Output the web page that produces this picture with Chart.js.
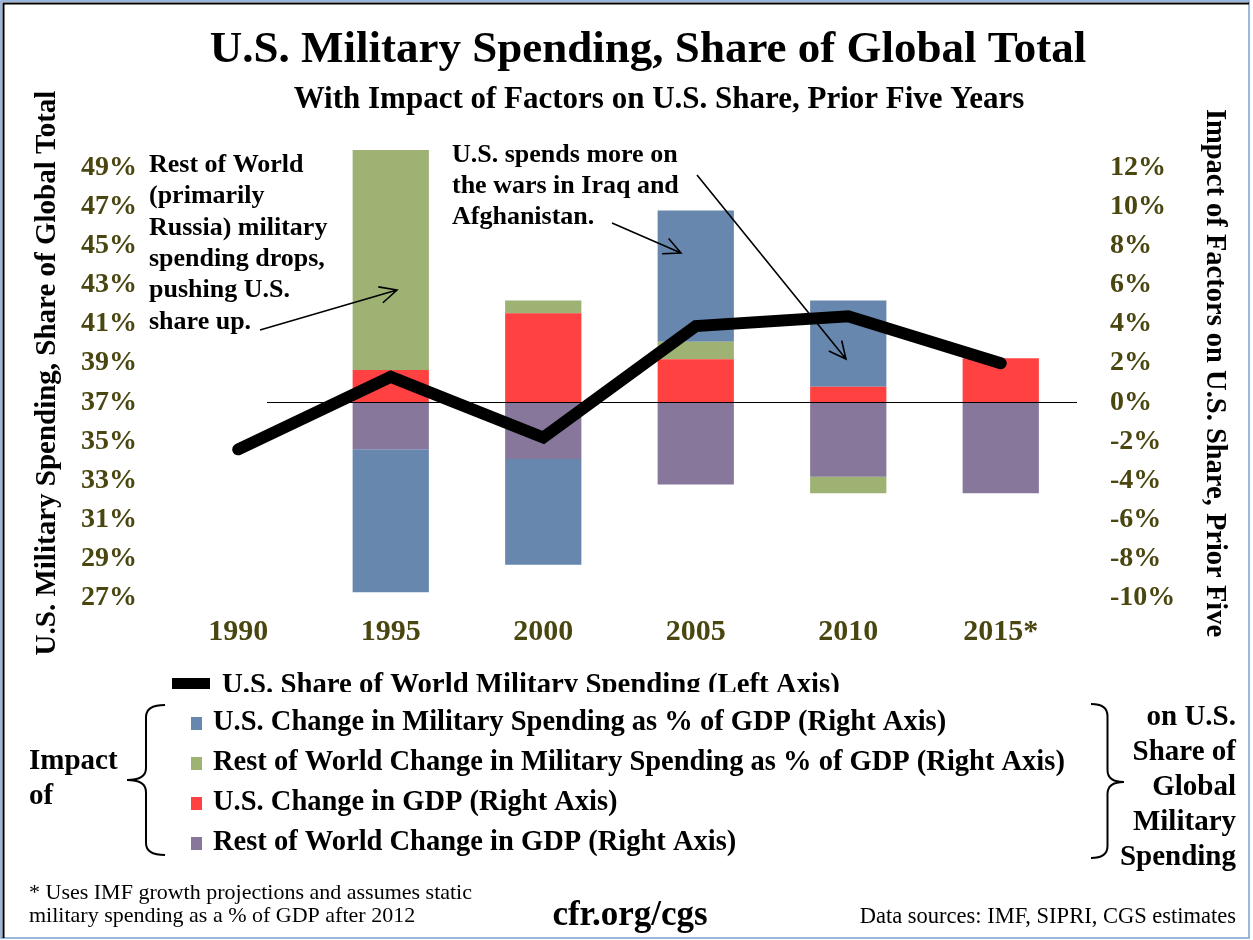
<!DOCTYPE html>
<html>
<head>
<meta charset="utf-8">
<title>U.S. Military Spending, Share of Global Total</title>
<script src="https://cdn.jsdelivr.net/npm/chart.js@4.4.1/dist/chart.umd.min.js"></script>
<style>
  html, body { margin: 0; padding: 0; background: #fff; }
  #wrap { width: 1253px; height: 940px; }
</style>
</head>
<body>
<div id="wrap"><canvas id="chart" width="1253" height="940"></canvas></div>
<script>
// categories
const years = ['1990', '1995', '2000', '2005', '2010', '2015*'];

// U.S. share of world military spending, % (left axis)
const usShare = [34.6, 38.3, 35.2, 40.9, 41.4, 39.0];

// impact factors on U.S. share over prior five years, % (right axis)
const usMilChange  = [null, -7.3, -5.4, 6.7, 4.4, null];    // blue
const rowMilChange = [null, 11.25, 0.65, 0.9, -0.85, null]; // green
const usGdpChange  = [null, 1.65, 4.55, 2.2, 0.8, 2.25];    // red
const rowGdpChange = [null, -2.4, -2.9, -4.2, -3.8, -4.65]; // purple

// tick labels
const leftTicks  = [27, 29, 31, 33, 35, 37, 39, 41, 43, 45, 47, 49];
const rightTicks = [-10, -8, -6, -4, -2, 0, 2, 4, 6, 8, 10, 12];

const SERIF = '"Liberation Serif", "Times New Roman", serif';
const OLIVE = '#4a4610';
const BLUE = '#6787ae', GREEN = '#9db273', RED = '#ff4141', PURPLE = '#87779b';

function arrow(ctx, x1, y1, x2, y2) {
    const a = Math.atan2(y2 - y1, x2 - x1);
    const h = 19;
    ctx.beginPath();
    ctx.moveTo(x1, y1);
    ctx.lineTo(x2, y2);
    ctx.moveTo(x2 - h * Math.cos(a - 0.45), y2 - h * Math.sin(a - 0.45));
    ctx.lineTo(x2, y2);
    ctx.lineTo(x2 - h * Math.cos(a + 0.45), y2 - h * Math.sin(a + 0.45));
    ctx.stroke();
}

function brace(ctx, xEdge, xTip, yTop, yBot, yMid) {
    const xv = (xEdge + xTip) / 2;
    const r = 12;
    ctx.beginPath();
    ctx.moveTo(xEdge, yTop);
    ctx.quadraticCurveTo(xv, yTop, xv, yTop + r);
    ctx.lineTo(xv, yMid - r);
    ctx.quadraticCurveTo(xv, yMid, xTip, yMid);
    ctx.quadraticCurveTo(xv, yMid, xv, yMid + r);
    ctx.lineTo(xv, yBot - r);
    ctx.quadraticCurveTo(xv, yBot, xEdge, yBot);
    ctx.stroke();
}

const extras = {
    id: 'extras',
    afterDraw(chart) {
        const ctx = chart.ctx;
        const yR = chart.scales.yR;
        const area = chart.chartArea;
        ctx.save();

        // frame
        ctx.strokeStyle = '#7ba0d4';
        ctx.lineWidth = 1.5;
        ctx.strokeRect(1, 1, 1248, 937);
        ctx.strokeStyle = '#000';
        ctx.lineWidth = 2;
        ctx.beginPath();
        ctx.moveTo(3.5, 938); ctx.lineTo(3.5, 3.5); ctx.lineTo(1249, 3.5);
        ctx.stroke();

        // titles
        ctx.fillStyle = '#000';
        ctx.textAlign = 'center';
        ctx.textBaseline = 'middle';
        ctx.font = 'bold 45px ' + SERIF;
        ctx.fillText('U.S. Military Spending, Share of Global Total', 648, 50);
        ctx.font = 'bold 31px ' + SERIF;
        ctx.fillText('With Impact of Factors on U.S. Share, Prior Five Years', 659, 100);

        // zero line
        const y0 = yR.getPixelForValue(0);
        ctx.strokeStyle = '#000';
        ctx.lineWidth = 1;
        ctx.beginPath();
        ctx.moveTo(area.left + 105, Math.round(y0) + 0.5);
        ctx.lineTo(area.right, Math.round(y0) + 0.5);
        ctx.stroke();

        // annotations
        ctx.textAlign = 'left';
        ctx.font = 'bold 26px ' + SERIF;
        const note1 = ['Rest of World', '(primarily', 'Russia) military', 'spending drops,', 'pushing U.S.', 'share up.'];
        note1.forEach((t, i) => ctx.fillText(t, 149, 165 + i * 31.4));
        const note2 = ['U.S. spends more on', 'the wars in Iraq and', 'Afghanistan.'];
        note2.forEach((t, i) => ctx.fillText(t, 452, 155 + i * 31));
        ctx.lineWidth = 1.6;
        arrow(ctx, 260, 330, 397, 290);
        arrow(ctx, 612, 223, 681, 253);
        arrow(ctx, 697, 175, 846, 359);

        // legend: line series (cut off at the bottom as in the original)
        ctx.save();
        ctx.beginPath();
        ctx.rect(0, 0, 1253, 692);
        ctx.clip();
        ctx.fillStyle = '#000';
        ctx.fillRect(172, 678, 38, 11);
        ctx.font = 'bold 28.8px ' + SERIF;
        ctx.fillText('U.S. Share of World Military Spending (Left Axis)', 222, 686);
        ctx.restore();

        // legend: bar series
        const items = [
            [BLUE, 'U.S. Change in Military Spending as % of GDP (Right Axis)'],
            [GREEN, 'Rest of World Change in Military Spending as % of GDP (Right Axis)'],
            [RED, 'U.S. Change in GDP (Right Axis)'],
            [PURPLE, 'Rest of World Change in GDP (Right Axis)']
        ];
        ctx.font = 'bold 28.5px ' + SERIF;
        items.forEach(([c, t], i) => {
            const y = 723 + i * 40;
            ctx.fillStyle = c;
            ctx.fillRect(191, y - 6, 11, 13);
            ctx.fillStyle = '#000';
            ctx.fillText(t, 213, y);
        });

        // braces and side texts
        ctx.font = 'bold 29px ' + SERIF;
        ctx.fillText('Impact', 29, 762);
        ctx.fillText('of', 29, 797);
        ctx.lineWidth = 2;
        brace(ctx, 165, 127, 705, 855, 780);
        brace(ctx, 1091, 1124, 704, 858, 782);
        ctx.textAlign = 'right';
        ['on U.S.', 'Share of', 'Global', 'Military', 'Spending'].forEach((t, i) => {
            ctx.fillText(t, 1236, 718 + i * 35);
        });

        // footer
        ctx.textAlign = 'left';
        ctx.font = '22px ' + SERIF;
        ctx.fillText('* Uses IMF growth projections and assumes static', 29, 893);
        ctx.fillText('military spending as a % of GDP after 2012', 29, 916);
        ctx.textAlign = 'right';
        ctx.font = '22.5px ' + SERIF;
        ctx.fillText('Data sources: IMF, SIPRI, CGS estimates', 1236, 917);
        ctx.textAlign = 'center';
        ctx.font = 'bold 35px ' + SERIF;
        ctx.fillText('cfr.org/cgs', 630, 916);

        ctx.restore();
    }
};

const barBase = {
    type: 'bar',
    yAxisID: 'yR',
    order: 1,
    barPercentage: 1,
    categoryPercentage: 0.5,
    borderWidth: 0
};

new Chart(document.getElementById('chart').getContext('2d'), {
    type: 'bar',
    data: {
        labels: years,
        datasets: [
            {
                type: 'line',
                label: 'U.S. Share of World Military Spending (Left Axis)',
                data: usShare,
                yAxisID: 'yL',
                order: 0,
                borderColor: '#000',
                borderWidth: 12,
                borderCapStyle: 'round',
                borderJoinStyle: 'miter',
                pointRadius: 0,
                tension: 0,
                fill: false
            },
            Object.assign({}, barBase, { label: 'U.S. Change in GDP (Right Axis)', data: usGdpChange, backgroundColor: RED }),
            Object.assign({}, barBase, { label: 'Rest of World Change in GDP (Right Axis)', data: rowGdpChange, backgroundColor: PURPLE }),
            Object.assign({}, barBase, { label: 'Rest of World Change in Military Spending as % of GDP (Right Axis)', data: rowMilChange, backgroundColor: GREEN }),
            Object.assign({}, barBase, { label: 'U.S. Change in Military Spending as % of GDP (Right Axis)', data: usMilChange, backgroundColor: BLUE })
        ]
    },
    options: {
        responsive: false,
        animation: false,
        devicePixelRatio: 1,
        layout: { padding: { top: 148, bottom: 282, left: 0, right: 0 } },
        plugins: {
            legend: { display: false },
            tooltip: { enabled: false },
            title: { display: false }
        },
        scales: {
            x: {
                stacked: true,
                grid: { display: false, drawTicks: false },
                border: { display: false },
                ticks: { color: OLIVE, padding: 16, font: { family: SERIF, size: 30, weight: 'bold' } },
                afterFit: (s) => { s.height = 60; }
            },
            yL: {
                position: 'left',
                min: 27,
                max: 50,
                grid: { display: false, drawTicks: false },
                border: { display: false },
                afterBuildTicks: (s) => { s.ticks = leftTicks.map(v => ({ value: v })); },
                ticks: {
                    color: OLIVE,
                    padding: 25,
                    font: { family: SERIF, size: 28, weight: 'bold' },
                    callback: (v) => v + '%'
                },
                title: {
                    display: true,
                    text: 'U.S. Military Spending, Share of Global Total',
                    color: '#000',
                    font: { family: SERIF, size: 29, weight: 'bold' },
                    padding: { top: 30, bottom: 0 }
                },
                afterFit: (s) => { s.width = 162; }
            },
            yR: {
                position: 'right',
                stacked: true,
                min: -10,
                max: 13,
                grid: { display: false, drawTicks: false },
                border: { display: false },
                afterBuildTicks: (s) => { s.ticks = rightTicks.map(v => ({ value: v })); },
                ticks: {
                    color: OLIVE,
                    padding: 33,
                    font: { family: SERIF, size: 28, weight: 'bold' },
                    callback: (v) => v + '%'
                },
                title: {
                    display: true,
                    text: 'Impact of Factors on U.S. Share, Prior Five',
                    color: '#000',
                    font: { family: SERIF, size: 28.5, weight: 'bold' },
                    padding: { top: 22, bottom: 0 }
                },
                afterFit: (s) => { s.width = 176; }
            }
        }
    },
    plugins: [extras]
});
</script>
</body>
</html>
